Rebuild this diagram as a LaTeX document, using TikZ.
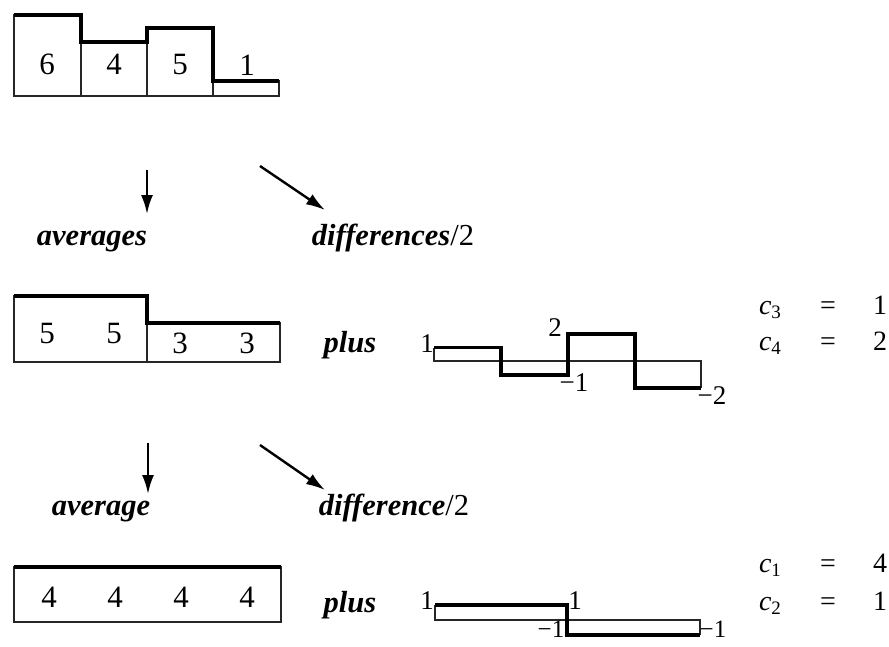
\documentclass[tikz,border=0pt]{standalone}
\usepackage{fontspec}
\setmainfont{Liberation Serif}
\usetikzlibrary{arrows.meta}
\tikzset{
  thinl/.style={line width=1.4pt, black!85},
  thickl/.style={line width=3.6pt, line cap=butt, line join=miter},
  arr/.style={line width=2.4pt, -{Latex[length=19pt,width=12pt]}},
  dig/.style={font=\fontsize{31}{33}\selectfont, inner sep=0pt},
  lab/.style={font=\fontsize{27}{29}\selectfont, inner sep=0pt},
  word/.style={font=\fontsize{30.5}{32}\selectfont\bfseries\itshape, inner sep=0pt, anchor=base},
  ceq/.style={font=\fontsize{28}{30}\selectfont, inner sep=0pt, anchor=base},
}
\newcommand{\csub}[1]{\textit{c}\raisebox{-0.35ex}{\fontsize{19}{21}\selectfont #1}}
\begin{document}
\begin{tikzpicture}[x=1pt,y=-1pt]
\useasboundingbox (0,0) rectangle (889,646);
% ---------- top row: 6 4 5 1
\draw[thinl] (14,96) rectangle (81,15);
\draw[thinl] (81,96) rectangle (147,42);
\draw[thinl] (147,96) rectangle (213,28);
\draw[thinl] (213,96) rectangle (279,81);
\draw[thickl] (14,15) -- (81,15) -- (81,42) -- (147,42) -- (147,28) -- (213,28) -- (213,81) -- (279,81);
\node[dig] (t1) at (47,64) {6};
\node[dig] (t2) at (114,64) {4};
\node[dig] (t3) at (180,64) {5};
\node[dig] (t4) at (247,65) {1};
% ---------- arrows row 1
\coordinate (d1s) at (147,170);
\coordinate (d1e) at (147,214);
\coordinate (g1s) at (260,166);
\coordinate (g1e) at (325,210);
\draw[arr] (d1s) -- (d1e);
\draw[arr] (g1s) -- (g1e);
\node[word] (avg1) at (92,245) {averages};
\node[word] (dif1) at (393,245) {differences{\mdseries\upshape/2}};
% ---------- middle row: 5 5 3 3
\draw[thinl] (14,362) rectangle (147,296);
\draw[thinl] (147,362) rectangle (280,323);
\draw[thickl] (14,296) -- (147,296) -- (147,323) -- (280,323);
\node[dig] (m1) at (47,333) {5};
\node[dig] (m2) at (114,333) {5};
\node[dig] (m3) at (180,343) {3};
\node[dig] (m4) at (247,343) {3};
\node[word] (plus1) at (350,352) {plus};
% differences graph
\draw[thinl] (434,347.5) -- (434,361) -- (701,361) -- (701,388);
\draw[thickl] (434,347.5) -- (501,347.5) -- (501,375) -- (568,375) -- (568,334) -- (635,334) -- (635,388) -- (701,388);
\node[lab] (l1) at (427,344) {1};
\node[lab] (l2) at (555,328) {2};
\node[lab] (l3) at (574,383) {−1};
\node[lab] (l4) at (712,396) {−2};
\node[ceq] (c3) at (770,314) {\csub{3}};
\node[ceq] (e3) at (828,314) {=};
\node[ceq] (v3) at (880,314) {1};
\node[ceq] (c4) at (770,350) {\csub{4}};
\node[ceq] (e4) at (828,350) {=};
\node[ceq] (v4) at (880,350) {2};
% ---------- arrows row 2
\coordinate (d2s) at (148,443);
\coordinate (d2e) at (148,494);
\coordinate (g2s) at (260,445);
\coordinate (g2e) at (325,490);
\draw[arr] (d2s) -- (d2e);
\draw[arr] (g2s) -- (g2e);
\node[word] (avg2) at (101,515) {average};
\node[word] (dif2) at (394,515) {difference{\mdseries\upshape/2}};
% ---------- bottom row: 4 4 4 4
\draw[thinl] (14,622) rectangle (281,567);
\draw[thickl] (14,567) -- (281,567);
\node[dig] (b1) at (49,597) {4};
\node[dig] (b2) at (115,597) {4};
\node[dig] (b3) at (181,597) {4};
\node[dig] (b4) at (247,597) {4};
\node[word] (plus2) at (350,612) {plus};
% difference graph
\draw[thinl] (435,605) -- (435,620) -- (700,620) -- (700,635);
\draw[thickl] (435,605) -- (567,605) -- (567,635) -- (700,635);
\node[lab] (k1) at (427,601) {1};
\node[lab] (k2) at (575,601) {1};
\node[lab, anchor=base, font=\fontsize{25}{27}\selectfont] (k3) at (551,637) {−1};
\node[lab, anchor=base, font=\fontsize{25}{27}\selectfont] (k4) at (713,637) {−1};
\node[ceq] (c1) at (770,572) {\csub{1}};
\node[ceq] (e1) at (828,572) {=};
\node[ceq] (v1) at (880,572) {4};
\node[ceq] (c2) at (770,610) {\csub{2}};
\node[ceq] (e2) at (828,610) {=};
\node[ceq] (v2) at (880,610) {1};
\end{tikzpicture}
\end{document}
